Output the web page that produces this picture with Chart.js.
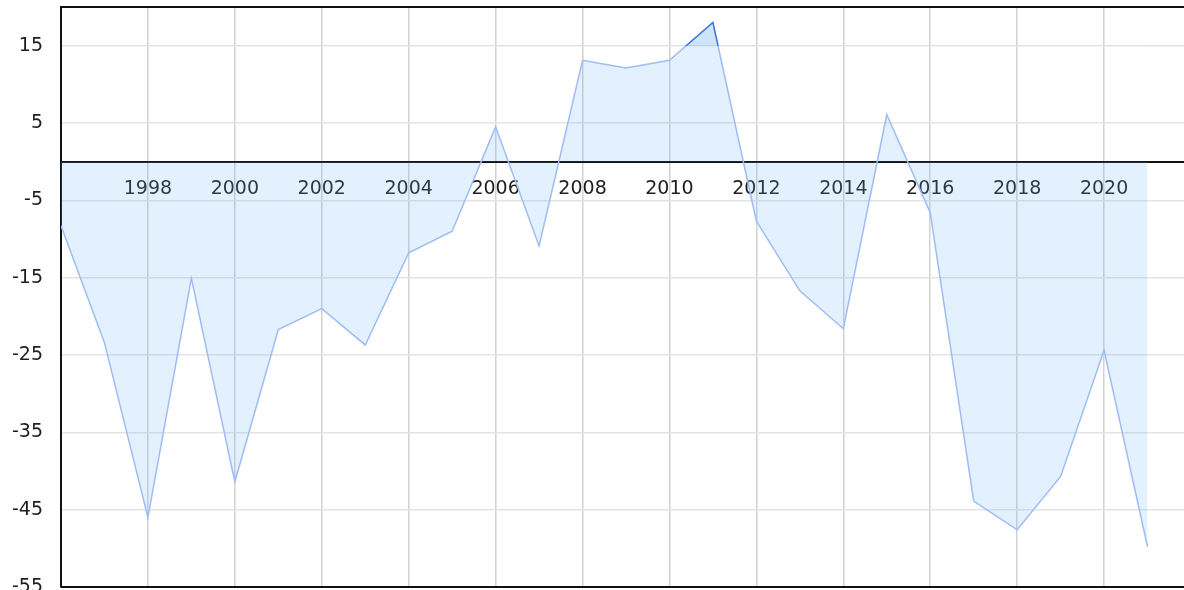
<!DOCTYPE html>
<html>
<head>
<meta charset="utf-8">
<script src="https://cdn.jsdelivr.net/npm/chart.js@4/dist/chart.umd.min.js"></script>
<style>
html, body { margin: 0; padding: 0; overflow: hidden; background: #fff; }
#wrap { width: 1191px; height: 590px; position: relative; }
</style>
</head>
<body>
<div id="wrap"><canvas id="c"></canvas></div>
<script>
const years = [1996,1997,1998,1999,2000,2001,2002,2003,2004,2005,2006,2007,2008,2009,2010,2011,2012,2013,2014,2015,2016,2017,2018,2019,2020,2021];
const values = [-8.3,-23.4,-46,-15.1,-41.4,-21.7,-19.0,-23.7,-11.8,-9.0,4.5,-10.9,13.1,12.1,13.1,18.0,-7.7,-16.7,-21.6,6.1,-6.6,-43.9,-47.6,-40.7,-24.4,-49.8];
const xTicks = [1998,2000,2002,2004,2006,2008,2010,2012,2014,2016,2018,2020];
const yTicks = [-55,-45,-35,-25,-15,-5,5,15];
const highlightLevel = 15;

const lightLine = '#9dbdf4';
const darkLine = '#3a76df';
const fillColor = 'rgba(100,170,245,0.18)';

const points = years.map((y, i) => ({x: y, y: values[i]}));

const borderPlugin = {
  id: 'frame',
  afterDraw(chart) {
    const {ctx, chartArea} = chart;
    ctx.save();
    ctx.strokeStyle = '#111';
    ctx.lineWidth = 2;
    ctx.beginPath();
    ctx.moveTo(chartArea.left, chartArea.top);
    ctx.lineTo(chartArea.right, chartArea.top);
    ctx.moveTo(chartArea.left, chartArea.bottom);
    ctx.lineTo(chartArea.right, chartArea.bottom);
    ctx.moveTo(chartArea.right, chartArea.top);
    ctx.lineTo(chartArea.right, chartArea.bottom);
    ctx.stroke();
    ctx.restore();
  }
};

function lineColor(context) {
  const chart = context.chart;
  const {ctx, chartArea, scales} = chart;
  if (!chartArea || !scales.y) return lightLine;
  const yPix = scales.y.getPixelForValue(highlightLevel);
  const frac = Math.min(1, Math.max(0, (yPix - chartArea.top) / (chartArea.bottom - chartArea.top)));
  const g = ctx.createLinearGradient(0, chartArea.top, 0, chartArea.bottom);
  g.addColorStop(0, darkLine);
  g.addColorStop(frac, darkLine);
  g.addColorStop(Math.min(1, frac + 0.0001), lightLine);
  g.addColorStop(1, lightLine);
  return g;
}

new Chart(document.getElementById('c'), {
  type: 'line',
  data: {
    datasets: [
      {
        data: points,
        borderColor: lineColor,
        borderWidth: 1.5,
        backgroundColor: fillColor,
        fill: 'origin',
        pointRadius: 0,
        tension: 0
      },
      {
        data: points,
        borderColor: 'rgba(0,0,0,0)',
        borderWidth: 0,
        fill: {target: {value: highlightLevel}, above: fillColor, below: 'rgba(0,0,0,0)'},
        pointRadius: 0,
        tension: 0
      }
    ]
  },
  options: {
    responsive: true,
    maintainAspectRatio: false,
    animation: false,
    layout: { padding: { top: 7, bottom: 3, left: 0, right: 0 } },
    plugins: { legend: { display: false }, tooltip: { enabled: false } },
    scales: {
      x: {
        type: 'linear',
        position: { y: 0 },
        min: 1996,
        max: 2022,
        afterBuildTicks: (s) => { s.ticks = xTicks.map(v => ({value: v})); },
        afterFit: (s) => { s.height = 0; s.paddingTop = 0; s.paddingBottom = 0; s.paddingLeft = 0; s.paddingRight = 0; },
        grid: { color: '#d2d2d2', lineWidth: 1.5, drawTicks: false },
        border: { display: true, color: '#111', width: 2 },
        ticks: {
          color: '#1e1e1e',
          font: { family: 'DejaVu Sans', size: 19 },
          padding: 16,
          maxRotation: 0,
          autoSkip: false,
          callback: (v) => String(v)
        }
      },
      y: {
        type: 'linear',
        min: -55,
        max: 20,
        afterBuildTicks: (s) => { s.ticks = yTicks.map(v => ({value: v})); },
        afterFit: (s) => { s.width = 61; s.paddingTop = 0; s.paddingBottom = 0; },
        grid: { color: '#e4e4e4', lineWidth: 1.5, drawTicks: false },
        border: { display: true, color: '#111', width: 2 },
        ticks: {
          color: '#1e1e1e',
          font: { family: 'DejaVu Sans', size: 19 },
          padding: 18,
          autoSkip: false,
          callback: (v) => String(v)
        }
      }
    }
  },
  plugins: [borderPlugin]
});
</script>
</body>
</html>
